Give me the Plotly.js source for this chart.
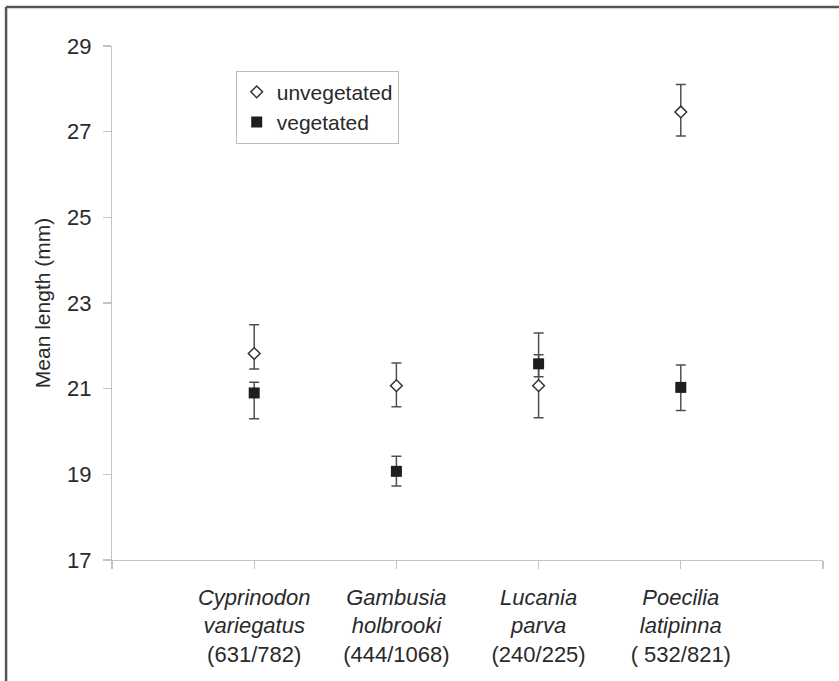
<!DOCTYPE html>
<html>
<head>
<meta charset="utf-8">
<script src="https://cdn.plot.ly/plotly-3.0.1.min.js"></script>
<style>html,body{margin:0;padding:0;background:#fff;}#chart{width:839px;height:681px;}</style>
</head>
<body>
<div id="chart"></div>
<script>
// Category positions and labels
const categoryPos = [1, 2, 3, 4];
const speciesGenus = ["Cyprinodon", "Gambusia", "Lucania", "Poecilia"];
const speciesEpithet = ["variegatus", "holbrooki", "parva", "latipinna"];
const sampleSizes = ["(631/782)", "(444/1068)", "(240/225)", "( 532/821)"];

// Unvegetated series
const unvegMean = [21.82, 21.07, 21.07, 27.46];
const unvegErrPlus = [0.67, 0.53, 0.72, 0.64];
const unvegErrMinus = [0.36, 0.49, 0.75, 0.56];

// Vegetated series
const vegMean = [20.90, 19.07, 21.58, 21.03];
const vegErrPlus = [0.25, 0.35, 0.72, 0.52];
const vegErrMinus = [0.60, 0.34, 0.30, 0.54];

// Y ticks
const yTicks = [17, 19, 21, 23, 25, 27, 29];

const tickVals = [0].concat(categoryPos, [5]);
const tickText = [""].concat(categoryPos.map((_, i) =>
  "<i>" + speciesGenus[i] + "</i><br><i>" + speciesEpithet[i] + "</i><br>" + sampleSizes[i]), [""]);

const errStyle = {type: "data", symmetric: false, color: "#505050", thickness: 1.5, width: 5};

const traces = [
  {
    x: categoryPos, y: unvegMean, name: "unvegetated", type: "scatter", mode: "markers",
    marker: {symbol: "diamond", size: 9, color: "#ffffff", line: {color: "#333333", width: 1.5}},
    error_y: Object.assign({array: unvegErrPlus, arrayminus: unvegErrMinus}, errStyle)
  },
  {
    x: categoryPos, y: vegMean, name: "vegetated", type: "scatter", mode: "markers",
    marker: {symbol: "square", size: 11, color: "#1e1e1e", line: {color: "#1e1e1e", width: 0}},
    error_y: Object.assign({array: vegErrPlus, arrayminus: vegErrMinus}, errStyle)
  }
];

const fam = "Liberation Sans, Arial, sans-serif";
const txt = "#2a2a2a";

const layout = {
  width: 839, height: 681,
  margin: {l: 112, r: 16, t: 46, b: 121},
  paper_bgcolor: "#ffffff", plot_bgcolor: "#ffffff",
  font: {family: fam, size: 22, color: txt},
  showlegend: true,
  legend: {
    x: 0.174, y: 0.952, xanchor: "left", yanchor: "top",
    bordercolor: "#bdbdbd", borderwidth: 1, bgcolor: "#ffffff",
    font: {family: fam, size: 21, color: txt},
    tracegroupgap: 0
  },
  xaxis: {
    range: [0, 5], tickmode: "array", tickvals: tickVals, ticktext: tickText,
    showgrid: false, zeroline: false, showline: true, linecolor: "#c4c4c4", linewidth: 1.2,
    ticks: "outside", ticklen: 8, tickcolor: "#c4c4c4", tickwidth: 1.2,
    ticklabelstandoff: 9,
    tickfont: {family: fam, size: 22, color: txt}, fixedrange: true
  },
  yaxis: {
    range: [17, 29], tickmode: "array", tickvals: yTicks,
    showgrid: false, zeroline: false, showline: true, linecolor: "#c4c4c4", linewidth: 1.2,
    ticks: "outside", ticklen: 8, tickcolor: "#c4c4c4", tickwidth: 1.2,
    ticklabelstandoff: 7,
    tickfont: {family: fam, size: 22, color: txt},
    title: {text: "Mean length (mm)", font: {family: fam, size: 21, color: txt}, standoff: 10},
    fixedrange: true
  },
  shapes: [
    {type: "line", xref: "paper", yref: "paper", x0: -0.149, x1: 1.05, y0: 1.0759, y1: 1.0759,
     line: {color: "#555555", width: 2.5}},
    {type: "line", xref: "paper", yref: "paper", x0: -0.149, x1: -0.149, y0: 1.0759, y1: -0.3,
     line: {color: "#555555", width: 2.5}}
  ]
};

Plotly.newPlot("chart", traces, layout, {displayModeBar: false, staticPlot: true});
</script>
</body>
</html>
